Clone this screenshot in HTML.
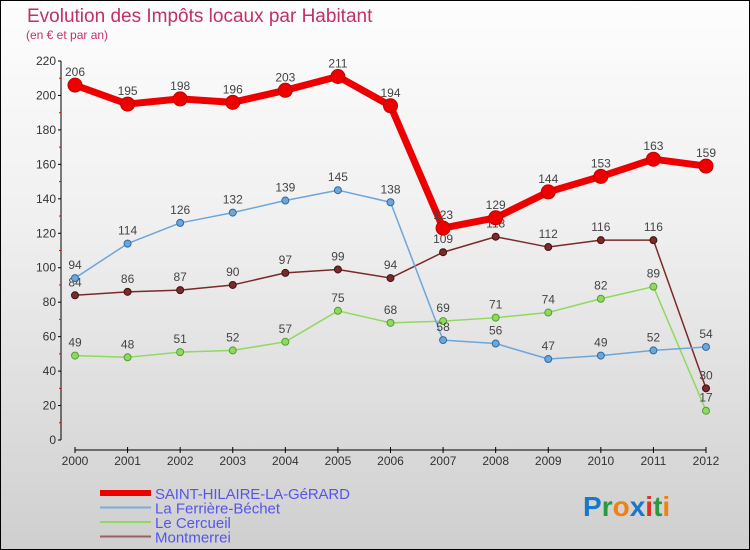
<!DOCTYPE html>
<html><head><meta charset="utf-8"><style>
body{margin:0;padding:0}
#wrap{position:relative;width:748px;height:548px;border:1px solid #000;background:linear-gradient(#fdfdfd,#f0f0f0 40%,#cfcfcf);font-family:"Liberation Sans",sans-serif;overflow:hidden}
svg{position:absolute;left:-1px;top:-1px}
</style></head><body>
<div id="wrap">
<svg id="chart" width="750" height="550"></svg>
</div>
<script>
const years=["2000","2001","2002","2003","2004","2005","2006","2007","2008","2009","2010","2011","2012"];
const yTicks=[0,20,40,60,80,100,120,140,160,180,200,220];
const sSaint=[206,195,198,196,203,211,194,123,129,144,153,163,159];
const sFerriere=[94,114,126,132,139,145,138,58,56,47,49,52,54];
const sCercueil=[49,48,51,52,57,75,68,69,71,74,82,89,17];
const sMont=[84,86,87,90,97,99,94,109,118,112,116,116,30];
const NS="http://www.w3.org/2000/svg";
const svg=document.getElementById('chart');
const x=i=>75+i*(706-75)/12;
const y=v=>440-v*(440-61)/220;
function mk(t,a,p){const e=document.createElementNS(NS,t);for(const k in a)e.setAttribute(k,a[k]);(p||svg).appendChild(e);return e;}
function txt(s,a){const e=mk('text',a);e.textContent=s;return e;}
let t;
t=txt("Evolution des Impôts locaux par Habitant",{x:27,y:22,'font-size':19,fill:'#c0306a'});

t=txt("(en € et par an)",{x:26,y:39,'font-size':12,fill:'#c0306a'});

// y axis
t=mk('line',{x1:61,y1:61,x2:61,y2:440,stroke:'#000','stroke-width':1});

yTicks.forEach((v,i)=>{
 mk('line',{x1:58,y1:y(v),x2:61,y2:y(v),stroke:'#000'});
 if(i<yTicks.length-1){mk('line',{x1:59,y1:y(v+10),x2:61,y2:y(v+10),stroke:'#e00'});}
 const l=txt(String(v),{x:56,y:y(v)+4,'font-size':12,fill:'#333','text-anchor':'end'});
 
});
t=mk('line',{x1:75,y1:450,x2:706,y2:450,stroke:'#000'});

years.forEach((yr,i)=>{
 mk('line',{x1:x(i),y1:447,x2:x(i),y2:453,stroke:'#000'});
 const l=txt(yr,{x:x(i),y:465,'font-size':12,fill:'#333','text-anchor':'middle'});
 
});
function series(data,color,dark,w,r,name){
 const g=mk('g',{});
 
 
 mk('polyline',{points:data.map((v,i)=>x(i)+','+y(v)).join(' '),fill:'none',stroke:color,'stroke-width':w,'stroke-linejoin':'round'},g);
 data.forEach((v,i)=>{
  const c=mk('circle',{cx:x(i),cy:y(v),r:r,fill:color,stroke:dark,'stroke-width':1},g);
  
  
  const l=txt(String(v),{x:x(i),y:y(v)-9,'font-size':12,fill:'#444','text-anchor':'middle'});
  
  
 });
}
series(sMont,'#7a2a2a','#401010',1.5,3.5,'series-montmerrei');
series(sCercueil,'#90d860','#50a030',1.5,3.5,'series-le-cercueil');
series(sFerriere,'#6ea6d8','#2a6aa8',1.5,3.5,'series-la-ferriere-bechet');
series(sSaint,'#ee0000','#c00000',7,7,'series-saint-hilaire');
// legend
const leg=[["SAINT-HILAIRE-LA-GéRARD","#ee0000",6],["La Ferrière-Béchet","#7aaed8",2],["Le Cercueil","#90d860",2],["Montmerrei","#9a6060",2]];
leg.forEach((e,i)=>{
 const ly=493+i*14.5;
 const g=mk('g',{});
 
 
 mk('line',{x1:100,y1:ly,x2:151,y2:ly,stroke:e[1],'stroke-width':e[2]},g);
 const l=mk('text',{x:155,y:ly+6,'font-size':15,fill:'#5555ee','textLength':i==0?195:0},g);
 if(i!=0)l.removeAttribute('textLength');
 l.textContent=e[0];
});
// logo
const lg=mk('text',{x:583,y:516,'font-size':28,'font-weight':'bold'});


[["P","#1a78c8"],["r","#2a9a40"],["o","#f08010"],["x","#1a78c8"],["i","#e03020"],["t","#2a9a40"],["i","#f08010"]].forEach(c=>{const s=document.createElementNS(NS,'tspan');s.setAttribute('fill',c[1]);s.textContent=c[0];lg.appendChild(s);});
</script>
</body></html>
